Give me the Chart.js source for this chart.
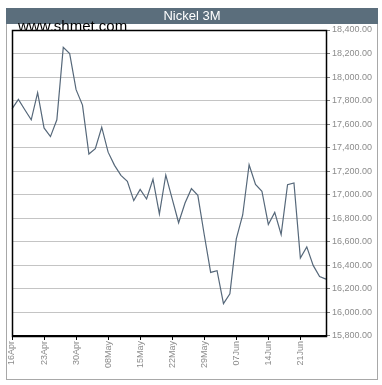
<!DOCTYPE html>
<html>
<head>
<meta charset="utf-8">
<script src="https://cdn.jsdelivr.net/npm/chart.js@4/dist/chart.umd.min.js"></script>
<style>
html,body{margin:0;padding:0;background:#fff;}
#wrap{position:relative;width:382px;height:385px;}
</style>
</head>
<body>
<div id="wrap"><canvas id="c" width="382" height="385"></canvas></div>
<script>
const titleText = "Nickel 3M";
const watermark = "www.shmet.com";
const dates = [
  "16Apr","17Apr","18Apr","19Apr","20Apr",
  "23Apr","24Apr","25Apr","26Apr","27Apr",
  "30Apr","01May","02May","03May","04May",
  "08May","09May","10May","11May","14May",
  "15May","16May","17May","18May","21May",
  "22May","23May","24May","25May","28May",
  "29May","30May","31May","01Jun","04Jun",
  "07Jun","08Jun","11Jun","12Jun","13Jun",
  "14Jun","15Jun","18Jun","19Jun","20Jun",
  "21Jun","22Jun","25Jun","26Jun","27Jun"
];
const shownDates = ["16Apr","23Apr","30Apr","08May","15May","22May","29May","07Jun","14Jun","21Jun"];
const prices = [
  17730,17810,17722,17637,17867,
  17568,17494,17637,18252,18200,
  17893,17762,17346,17392,17574,
  17362,17250,17165,17114,16950,
  17046,16964,17132,16837,17168,
  16965,16762,16930,17052,16995,
  16660,16340,16355,16075,16158,
  16625,16828,17255,17088,17030,
  16748,16850,16662,17085,17100,
  16463,16557,16400,16306,16283
];
const yMin = 15800, yMax = 18400, yStep = 200;

const frame = {
  id: 'frame',
  beforeDraw(chart) {
    const ctx = chart.ctx;
    ctx.save();
    ctx.fillStyle = '#fff';
    ctx.fillRect(0, 0, chart.width, chart.height);
    ctx.strokeStyle = '#a8a8a8';
    ctx.lineWidth = 1;
    ctx.strokeRect(6.5, 8.5, 371, 371);
    ctx.restore();
  },
  afterDraw(chart) {
    const ctx = chart.ctx;
    const a = chart.chartArea;
    ctx.save();
    ctx.fillStyle = '#5b6e7c';
    ctx.fillRect(6, 8, 372, 16);
    ctx.fillStyle = '#ffffff';
    ctx.font = '13px "Liberation Sans", Arial, sans-serif';
    ctx.textAlign = 'center';
    ctx.textBaseline = 'middle';
    ctx.fillText(titleText, 192, 16.5);
    ctx.fillStyle = '#000';
    ctx.textAlign = 'left';
    ctx.textBaseline = 'alphabetic';
    ctx.font = '15px "Liberation Sans", Arial, sans-serif';
    ctx.fillText(watermark, 18, 31);
    ctx.strokeStyle = '#000';
    ctx.lineWidth = 1.5;
    ctx.strokeRect(Math.round(a.left) + 0.5, Math.round(a.top) + 0.5, Math.round(a.right - a.left), Math.round(a.bottom - a.top));
    ctx.restore();
  }
};

const isShown = i => shownDates.includes(dates[i]);

new Chart(document.getElementById('c'), {
  type: 'line',
  data: {
    labels: dates,
    datasets: [{
      data: prices,
      borderColor: '#56687a',
      borderWidth: 1.2,
      pointRadius: 0,
      tension: 0,
      fill: false
    }]
  },
  options: {
    responsive: false,
    animation: false,
    devicePixelRatio: 1,
    layout: { padding: { left: 12, top: 30, right: 0, bottom: 16 } },
    plugins: { legend: { display: false }, tooltip: { enabled: false } },
    scales: {
      x: {
        offset: false,
        grid: {
          display: true, drawOnChartArea: false, tickLength: 4,
          color: '#000',
          tickColor: ctx => (ctx.index !== undefined && isShown(ctx.index)) ? '#000' : 'rgba(0,0,0,0)'
        },
        border: { display: true, color: '#000' },
        ticks: {
          autoSkip: false,
          maxRotation: 90, minRotation: 90,
          color: '#8c8c8c',
          font: { family: '"Liberation Sans", Arial, sans-serif', size: 9 },
          padding: 1,
          callback: function(v, i) { return isShown(i) ? dates[i] : ''; }
        }
      },
      y: {
        position: 'right',
        min: yMin, max: yMax,
        grid: { color: '#c4c4c4', tickLength: 4, tickColor: '#777', lineWidth: 1 },
        border: { display: true, color: '#000' },
        afterFit(s) { s.width = 56; },
        ticks: {
          stepSize: yStep,
          color: '#8c8c8c',
          padding: 2,
          font: { family: '"Liberation Sans", Arial, sans-serif', size: 9 },
          callback: v => v.toLocaleString('en-US', { minimumFractionDigits: 2, maximumFractionDigits: 2 })
        }
      }
    }
  },
  plugins: [frame]
});
</script>
</body>
</html>
